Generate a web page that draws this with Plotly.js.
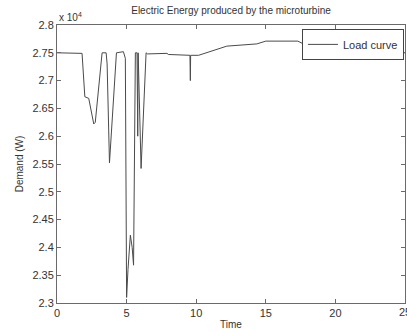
<!DOCTYPE html>
<html>
<head>
<meta charset="utf-8">
<script src="https://cdn.plot.ly/plotly-3.0.1.min.js"></script>
<style>
html,body{margin:0;padding:0;background:#fff;}
#chart{width:407px;height:332px;}
</style>
</head>
<body>
<div id="chart"></div>
<script>
// Time values
var timeValues = [0, 1.8, 2.0, 2.28, 2.64, 2.75, 3.24, 3.53, 3.6, 3.77, 4.27, 4.77, 4.91, 5.0, 5.1, 5.27, 5.4, 5.5, 5.63, 5.75, 5.8, 5.83, 6.04, 6.4, 6.5, 7.9, 8.0, 9.55, 9.58, 9.6, 10.17, 12.2, 14.36, 15.0, 17.3, 17.7, 22, 23.8, 24.2, 25];
// Demand values (W)
var demandValues = [27500, 27490, 26710, 26680, 26220, 26250, 27500, 27500, 27300, 25520, 27500, 27520, 27400, 23100, 23600, 24220, 24000, 23680, 27500, 27500, 26000, 27500, 25420, 27500, 27480, 27490, 27470, 27455, 27000, 27455, 27455, 27620, 27660, 27710, 27710, 27660, 27650, 27560, 27520, 27500];
var xTickVals = [0, 5, 10, 15, 20, 25];
var yTickVals = [23000, 23500, 24000, 24500, 25000, 25500, 26000, 26500, 27000, 27500, 28000];
var yTickText = ['2.3', '2.35', '2.4', '2.45', '2.5', '2.55', '2.6', '2.65', '2.7', '2.75', '2.8'];

var FONT = 'Liberation Sans, Arial, sans-serif';

var trace = {
  x: timeValues,
  y: demandValues,
  type: 'scatter',
  mode: 'lines',
  name: 'Load curve',
  line: {color: '#4a4a4a', width: 1}
};

var axisCommon = {
  showline: true,
  linecolor: '#6a6a6a',
  linewidth: 1,
  mirror: 'ticks',
  ticks: 'inside',
  ticklen: 4,
  tickcolor: '#6a6a6a',
  showgrid: false,
  zeroline: false,
  tickfont: {family: FONT, size: 11, color: '#333'}
};

var layout = {
  width: 407,
  height: 332,
  margin: {l: 56.5, r: 2, t: 25, b: 29, pad: 0},
  paper_bgcolor: '#fff',
  plot_bgcolor: '#fff',
  showlegend: true,
  title: {
    text: 'Electric Energy produced by the microturbine',
    font: {family: FONT, size: 10, color: '#333'},
    x: 0.5, xref: 'paper', y: 0.967, yanchor: 'middle'
  },
  xaxis: Object.assign({}, axisCommon, {
    range: [0, 25],
    tickvals: xTickVals,
    ticktext: xTickVals.map(String),
    title: {text: 'Time', font: {family: FONT, size: 10, color: '#333'}, standoff: 2}
  }),
  yaxis: Object.assign({}, axisCommon, {
    range: [23000, 28000],
    tickvals: yTickVals,
    ticktext: yTickText,
    title: {text: 'Demand (W)', font: {family: FONT, size: 10, color: '#333'}, standoff: 6}
  }),
  legend: {
    x: 0.997, xanchor: 'right',
    y: 0.986, yanchor: 'top',
    bgcolor: '#fff',
    bordercolor: '#444',
    borderwidth: 1,
    font: {family: FONT, size: 11, color: '#333'},
    itemwidth: 30,
    tracegroupgap: 0
  },
  annotations: [{
    text: 'x 10<sup>4</sup>',
    xref: 'paper', yref: 'paper',
    x: 0, y: 1, xanchor: 'left', yanchor: 'bottom',
    showarrow: false,
    font: {family: FONT, size: 10, color: '#333'}
  }, {
    text: '25',
    xref: 'x', yref: 'paper',
    x: 25, y: 0, xanchor: 'center', yanchor: 'top',
    yshift: -1,
    showarrow: false,
    font: {family: FONT, size: 11, color: '#333'}
  }]
};

Plotly.newPlot('chart', [trace], layout, {displayModeBar: false, staticPlot: true});
</script>
</body>
</html>
